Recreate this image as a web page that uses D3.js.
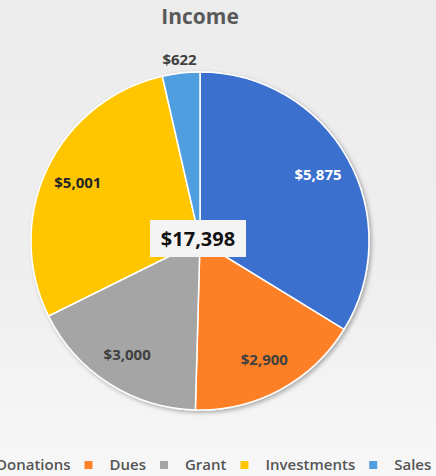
<!DOCTYPE html>
<html>
<head>
<meta charset="utf-8">
<script src="https://cdn.jsdelivr.net/npm/d3@7"></script>
<style>
  html, body { margin: 0; padding: 0; overflow: hidden; }
  body { width: 436px; height: 476px; font-family: "Open Sans", "Noto Sans", sans-serif; }
</style>
</head>
<body>
<div id="chart"></div>
<script>
// Income by source
const categories = ["Donations", "Dues", "Grant", "Investments", "Sales"];
const values = [5875, 2900, 3000, 5001, 622];
const colors = ["#3a70cf", "#fe8028", "#a5a5a5", "#ffc600", "#509ee0"];
const title = "Income";

const width = 436, height = 476;
const cx = 200, cy = 241, radius = 169;

const svg = d3.select("#chart").append("svg")
  .attr("width", width)
  .attr("height", height);

const defs = svg.append("defs");

// faint background like the blurred slide behind the chart
const bg = defs.append("linearGradient")
  .attr("id", "bg").attr("x1", 0).attr("y1", 0).attr("x2", 0).attr("y2", 1);
bg.append("stop").attr("offset", "0%").attr("stop-color", "#ececec");
bg.append("stop").attr("offset", "60%").attr("stop-color", "#efefef");
bg.append("stop").attr("offset", "100%").attr("stop-color", "#f7f7f7");

const shadow = defs.append("filter").attr("id", "shadow")
  .attr("x", "-20%").attr("y", "-20%").attr("width", "140%").attr("height", "140%");
shadow.append("feDropShadow")
  .attr("dx", 2).attr("dy", 2).attr("stdDeviation", 2)
  .attr("flood-color", "#000").attr("flood-opacity", 0.3);

svg.append("rect").attr("width", width).attr("height", height).attr("fill", "url(#bg)");

svg.append("text")
  .attr("x", cx).attr("y", 24)
  .attr("text-anchor", "middle")
  .attr("font-size", 21).attr("font-weight", 700)
  .attr("fill", "#595959")
  .text(title);

const data = categories.map((c, i) => ({ name: c, value: values[i], color: colors[i] }));
const total = d3.sum(values);

const pie = d3.pie().value(d => d.value).sort(null);
const arcs = pie(data);
const arc = d3.arc().innerRadius(0).outerRadius(radius);
const labelArc = d3.arc().innerRadius(radius * 0.8).outerRadius(radius * 0.8);
const outerLabelArc = d3.arc().innerRadius(radius * 1.08).outerRadius(radius * 1.08);

const g = svg.append("g").attr("transform", `translate(${cx},${cy})`);

g.append("g").attr("filter", "url(#shadow)")
  .selectAll("path").data(arcs).join("path")
    .attr("d", arc)
    .attr("fill", d => d.data.color)
    .attr("stroke", "#fff")
    .attr("stroke-width", 1.5);

const fmt = d3.format("$,");

// small slices get their label outside the pie
g.selectAll("text.lbl").data(arcs).join("text")
  .attr("class", "lbl")
  .attr("transform", d => {
    const small = (d.endAngle - d.startAngle) < 0.3;
    const p = (small ? outerLabelArc : labelArc).centroid(d);
    return `translate(${p[0]},${p[1]})`;
  })
  .attr("text-anchor", "middle")
  .attr("dy", "0.35em")
  .attr("font-size", 15).attr("font-weight", 700)
  .attr("fill", (d, i) => i == 0 ? "#ffffff" : (i == 3 ? "#262626" : "#404040"))
  .text(d => fmt(d.data.value));

// total in the middle
const totalG = g.append("g").attr("transform", "translate(-2,-2)");
totalG.append("rect")
  .attr("x", -48).attr("y", -19).attr("width", 96).attr("height", 37)
  .attr("fill", "#f4f4f4");
totalG.append("text")
  .attr("text-anchor", "middle").attr("dy", "0.36em")
  .attr("font-size", 20).attr("font-weight", 700)
  .attr("fill", "#111")
  .text(fmt(total));

// legend, clipped at the left edge as in the original
const legend = svg.append("g").attr("transform", "translate(0,465)");
const fontSize = 15;
let x = -29;
data.forEach(d => {
  const item = legend.append("g").attr("transform", `translate(${x},0)`);
  item.append("rect")
    .attr("x", 0).attr("y", -4).attr("width", 8).attr("height", 8)
    .attr("fill", d.color);
  const t = item.append("text")
    .attr("x", 25).attr("dy", "0.35em")
    .attr("font-size", fontSize).attr("font-weight", 600)
    .attr("fill", "#555")
    .text(d.name);
  x += 25 + t.node().getComputedTextLength() + 14;
});
</script>
</body>
</html>
